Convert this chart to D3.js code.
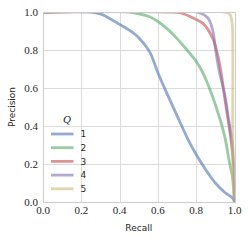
<!DOCTYPE html>
<html>
<head>
<meta charset="utf-8">
<script src="https://cdn.jsdelivr.net/npm/d3@7"></script>
<style>
  body { margin: 0; background: #fff; }
  svg { display: block; }
</style>
</head>
<body>
<div id="chart"></div>
<script>
// precision/recall curves for each Q
const qLabels = ["1", "2", "3", "4", "5"];
const recallQ1 = [0, 0.25, 0.3, 0.35, 0.4, 0.45, 0.5, 0.557, 0.6, 0.65, 0.7, 0.757, 0.8, 0.85, 0.9, 0.95, 0.99, 1.0];
const precQ1   = [1, 1, 0.99, 0.965, 0.935, 0.905, 0.865, 0.79, 0.68, 0.565, 0.455, 0.33, 0.25, 0.17, 0.1, 0.05, 0.02, 0.0];
const recallQ2 = [0, 0.45, 0.5, 0.557, 0.6, 0.65, 0.7, 0.73, 0.8, 0.835, 0.88, 0.92, 0.95, 0.975, 0.99, 1.0];
const precQ2   = [1, 1, 0.99, 0.975, 0.95, 0.91, 0.86, 0.826, 0.74, 0.68, 0.57, 0.45, 0.34, 0.2, 0.13, 0.0];
const recallQ3 = [0, 0.65, 0.72, 0.78, 0.835, 0.887, 0.913, 0.93, 0.95, 0.97, 0.985, 1.0, 1.0];
const precQ3   = [1, 1, 0.995, 0.97, 0.94, 0.86, 0.77, 0.68, 0.54, 0.41, 0.3, 0.12, 0.0];
const recallQ4 = [0, 0.8, 0.86, 0.887, 0.9, 0.92, 0.95, 0.97, 0.99, 1.0, 1.0];
const precQ4   = [1, 1, 0.97, 0.9, 0.81, 0.69, 0.56, 0.43, 0.3, 0.15, 0.0];
const recallQ5 = [0, 0.95, 0.975, 0.985, 0.99, 0.992, 1.0];
const precQ5   = [1, 1, 0.99, 0.96, 0.9, 0.1, 0.0];
const xTicks = [0, 0.2, 0.4, 0.6, 0.8, 1.0];
const yTicks = [0, 0.2, 0.4, 0.6, 0.8, 1.0];

const recalls = [recallQ1, recallQ2, recallQ3, recallQ4, recallQ5];
const precs = [precQ1, precQ2, precQ3, precQ4, precQ5];
const colors = ["#4C72B0", "#55A868", "#C44E52", "#8172B2", "#CCB974"];

const W = 249, H = 243;
const m = {left: 43, right: 14.5, top: 12, bottom: 41};

const svg = d3.select("#chart").append("svg").attr("width", W).attr("height", H);

const x = d3.scaleLinear().domain([0, 1]).range([m.left, W - m.right]);
const y = d3.scaleLinear().domain([0, 1]).range([H - m.bottom, m.top]);

// grid
svg.append("g").selectAll("line").data(xTicks).join("line")
    .attr("x1", d => Math.round(x(d)) + 0.5).attr("x2", d => Math.round(x(d)) + 0.5)
    .attr("y1", y(0)).attr("y2", y(1))
    .attr("stroke", "#dcdcdc").attr("stroke-width", 1);
svg.append("g").selectAll("line").data(yTicks).join("line")
    .attr("y1", d => Math.round(y(d)) + 0.5).attr("y2", d => Math.round(y(d)) + 0.5)
    .attr("x1", x(0)).attr("x2", x(1))
    .attr("stroke", "#dcdcdc").attr("stroke-width", 1);

svg.append("clipPath").attr("id", "clip").append("rect")
    .attr("x", x(0)).attr("y", y(1)).attr("width", x(1) - x(0)).attr("height", y(0) - y(1));

const line = d3.line().x(d => x(d[0])).y(d => y(d[1])).curve(d3.curveCatmullRom.alpha(0.5));

const curves = svg.append("g").attr("clip-path", "url(#clip)");
recalls.forEach((r, i) => {
    curves.append("path")
        .datum(r.map((v, j) => [v, precs[i][j]]))
        .attr("d", line)
        .attr("fill", "none")
        .attr("stroke", colors[i])
        .attr("stroke-opacity", 0.6)
        .attr("stroke-width", 2.8)
        .attr("stroke-linejoin", "round");
});

// frame
svg.append("rect")
    .attr("x", Math.round(x(0)) + 0.5).attr("y", Math.round(y(1)) + 0.5)
    .attr("width", Math.round(x(1)) - Math.round(x(0))).attr("height", Math.round(y(0)) - Math.round(y(1)))
    .attr("fill", "none").attr("stroke", "#cccccc").attr("stroke-width", 1);

// tick labels
const tickFont = "'Liberation Serif', 'Times New Roman', serif";
svg.append("g").selectAll("text").data(xTicks).join("text")
    .attr("x", d => x(d)).attr("y", 213.5)
    .attr("text-anchor", "middle")
    .attr("font-family", tickFont).attr("font-size", 11).attr("fill", "#262626")
    .text(d => d.toFixed(1));
svg.append("g").selectAll("text").data(yTicks).join("text")
    .attr("x", 38).attr("y", d => y(d) + 3.6)
    .attr("text-anchor", "end")
    .attr("font-family", tickFont).attr("font-size", 11).attr("fill", "#262626")
    .text(d => d.toFixed(1));

// axis labels
const sans = "'DejaVu Sans', sans-serif";
svg.append("text")
    .attr("x", (x(0) + x(1)) / 2).attr("y", 231)
    .attr("text-anchor", "middle")
    .attr("font-family", sans).attr("font-size", 9).attr("fill", "#262626")
    .text("Recall");
svg.append("text")
    .attr("transform", `translate(15,${(y(0) + y(1)) / 2}) rotate(-90)`)
    .attr("text-anchor", "middle")
    .attr("font-family", sans).attr("font-size", 9).attr("fill", "#262626")
    .text("Precision");

// legend
const legend = svg.append("g");
legend.append("text")
    .attr("x", 67).attr("y", 123)
    .attr("text-anchor", "middle")
    .attr("font-family", tickFont).attr("font-style", "italic").attr("font-size", 11).attr("fill", "#262626")
    .text("Q");
qLabels.forEach((q, i) => {
    const ly = 134 + i * 13.7;
    legend.append("line")
        .attr("x1", 51).attr("x2", 73.5).attr("y1", ly).attr("y2", ly)
        .attr("stroke", colors[i]).attr("stroke-opacity", 0.6).attr("stroke-width", 2.8);
    legend.append("text")
        .attr("x", 80.5).attr("y", ly + 3.3)
        .attr("font-family", sans).attr("font-size", 9).attr("fill", "#262626")
        .text(q);
});
</script>
</body>
</html>
